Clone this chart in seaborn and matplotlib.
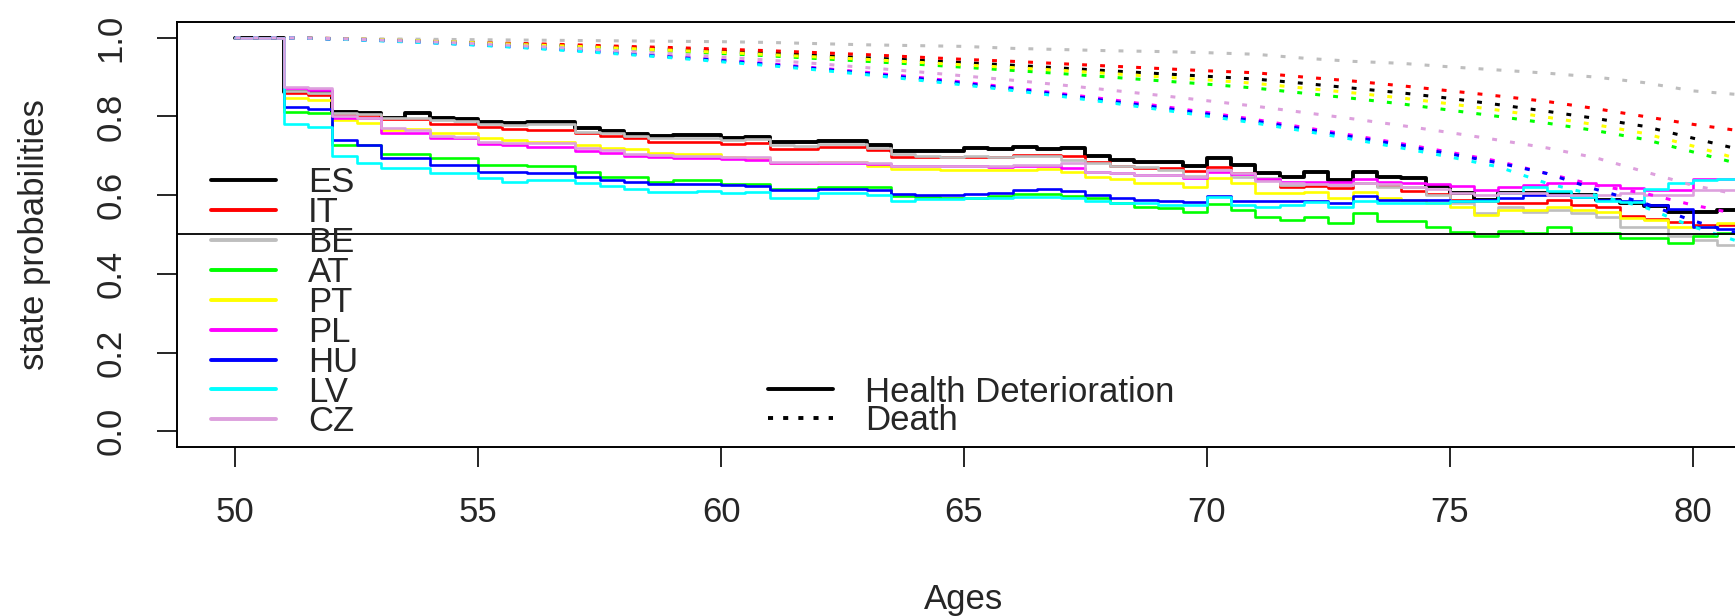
import numpy as np
import pandas as pd
import matplotlib
matplotlib.use("Agg")
import matplotlib.pyplot as plt
from matplotlib.lines import Line2D
import seaborn as sns

sns.set_style("ticks")
plt.rcParams["font.family"] = ["Liberation Sans", "DejaVu Sans"]
plt.rcParams["font.size"] = 25

countries = ["ES", "IT", "BE", "AT", "PT", "PL", "HU", "LV", "CZ"]
colors = ["#000000", "#FF0000", "#BEBEBE", "#00FF00", "#FFFF00",
          "#FF00FF", "#0000FF", "#00FFFF", "#DDA0DD"]

# Knots of the health-deterioration step curves (value holds until next knot)
step_ages = np.arange(51.0, 81.0, 0.5)

health = {
    "ES": [.862, .862, .812, .81, .797, .808, .795, .793, .787, .783,
           .787, .787, .77, .762, .755, .75, .752, .752, .745, .748,
           .736, .736, .738, .738, .728, .711, .711, .711, .72, .717,
           .722, .717, .72, .70, .69, .683, .683, .673, .695, .677,
           .656, .647, .66, .639, .66, .647, .643, .623, .605, .588,
           .605, .605, .605, .60, .588, .579, .572, .556, .556, .562],
    "IT": [.859, .855, .804, .804, .793, .793, .781, .781, .774, .767,
           .766, .766, .757, .75, .745, .736, .736, .736, .73, .732,
           .717, .717, .722, .722, .715, .698, .698, .696, .696, .696,
           .702, .702, .70, .683, .675, .67, .668, .662, .672, .657,
           .64, .62, .622, .617, .63, .622, .61, .603, .588, .584,
           .579, .579, .588, .575, .571, .546, .54, .533, .524, .524],
    "BE": [.865, .86, .81, .806, .795, .795, .79, .788, .78, .777,
           .78, .78, .76, .757, .75, .745, .745, .745, .74, .742,
           .728, .725, .73, .73, .72, .705, .70, .698, .70, .698,
           .70, .699, .69, .681, .675, .672, .665, .649, .665, .647,
           .643, .626, .63, .626, .63, .62, .62, .60, .579, .554,
           .571, .558, .562, .554, .545, .52, .52, .495, .486, .474],
    "AT": [.812, .808, .727, .727, .705, .705, .694, .694, .677, .677,
           .674, .674, .66, .647, .647, .634, .639, .639, .628, .628,
           .615, .615, .62, .62, .62, .598, .595, .592, .594, .598,
           .603, .603, .598, .592, .58, .571, .567, .556, .578, .562,
           .545, .537, .545, .53, .554, .535, .535, .52, .507, .496,
           .51, .503, .52, .505, .503, .49, .49, .478, .495, .505],
    "PT": [.846, .842, .79, .783, .766, .768, .757, .757, .745, .74,
           .736, .736, .728, .72, .716, .708, .705, .705, .698, .694,
           .681, .681, .683, .683, .675, .666, .666, .664, .664, .664,
           .664, .666, .66, .647, .64, .63, .632, .62, .643, .63,
           .606, .605, .607, .592, .607, .592, .588, .579, .571, .55,
           .562, .562, .571, .562, .558, .541, .537, .52, .52, .53],
    "PL": [.872, .868, .795, .795, .757, .757, .745, .745, .73, .728,
           .723, .723, .713, .708, .70, .696, .694, .694, .692, .689,
           .681, .681, .681, .681, .68, .673, .673, .673, .673, .671,
           .675, .673, .668, .66, .656, .652, .65, .643, .66, .655,
           .64, .634, .634, .634, .64, .634, .632, .628, .622, .613,
           .62, .626, .63, .63, .626, .617, .613, .613, .64, .64],
    "HU": [.825, .82, .74, .727, .694, .694, .677, .677, .66, .66,
           .656, .656, .645, .639, .634, .628, .628, .628, .625, .623,
           .612, .612, .615, .615, .614, .603, .60, .60, .603, .605,
           .612, .615, .61, .60, .592, .588, .586, .583, .598, .586,
           .584, .584, .586, .58, .598, .588, .588, .588, .584, .588,
           .592, .60, .60, .596, .588, .584, .575, .565, .52, .515],
    "LV": [.78, .774, .70, .681, .668, .668, .656, .656, .643, .634,
           .639, .639, .63, .622, .615, .607, .607, .61, .605, .607,
           .592, .592, .605, .605, .60, .584, .59, .59, .592, .592,
           .596, .596, .592, .584, .579, .579, .575, .575, .596, .575,
           .571, .575, .583, .571, .584, .579, .579, .581, .584, .586,
           .605, .62, .61, .596, .584, .583, .615, .63, .639, .64],
    "CZ": [.876, .872, .80, .795, .77, .766, .75, .749, .735, .732,
           .732, .732, .72, .715, .705, .702, .70, .70, .698, .696,
           .685, .685, .685, .685, .682, .673, .673, .673, .675, .673,
           .677, .677, .682, .66, .656, .652, .651, .647, .664, .656,
           .635, .63, .628, .626, .63, .628, .62, .615, .605, .60,
           .605, .605, .60, .60, .60, .605, .60, .60, .613, .613],
}

# Survival (no death) curves, one value per year of age 50..81
death_ages = np.arange(50, 82)
death = {
    "ES": [1, 1, .998, .995, .991, .987, .983, .979, .975, .971, .966, .961, .955, .949, .943, .937,
           .93, .923, .916, .909, .902, .895, .884, .872, .86, .846, .83, .813, .795, .775, .745, .715],
    "IT": [1, 1, .998, .995, .992, .988, .985, .982, .978, .975, .971, .967, .962, .957, .951, .945,
           .94, .934, .928, .922, .916, .911, .90, .89, .878, .865, .852, .838, .82, .80, .78, .763],
    "BE": [1, 1, .998, .997, .996, .995, .994, .993, .992, .991, .99, .988, .985, .982, .98, .978,
           .973, .97, .967, .965, .962, .958, .948, .94, .935, .926, .918, .91, .90, .886, .865, .855],
    "AT": [1, 1, .997, .994, .99, .986, .981, .976, .971, .966, .96, .954, .947, .94, .933, .925,
           .917, .909, .90, .891, .882, .872, .859, .846, .832, .816, .80, .783, .764, .742, .71, .678],
    "PT": [1, 1, .998, .995, .991, .987, .982, .978, .973, .968, .963, .957, .951, .945, .938, .931,
           .924, .917, .909, .901, .893, .884, .872, .86, .847, .832, .816, .798, .779, .757, .725, .69],
    "PL": [1, 1, .997, .993, .988, .982, .976, .969, .961, .953, .944, .934, .923, .912, .90, .887,
           .873, .858, .843, .827, .81, .792, .772, .752, .731, .709, .686, .655, .625, .605, .575, .55],
    "HU": [1, 1, .997, .993, .988, .982, .975, .968, .96, .951, .942, .932, .921, .909, .897, .884,
           .87, .855, .839, .823, .806, .788, .768, .748, .727, .705, .682, .655, .615, .58, .535, .50],
    "LV": [1, 1, .997, .992, .987, .981, .974, .966, .958, .949, .939, .929, .918, .906, .893, .88,
           .866, .851, .835, .818, .801, .783, .763, .742, .72, .697, .672, .63, .60, .57, .52, .48],
    "CZ": [1, 1, .998, .994, .99, .985, .979, .973, .966, .959, .951, .943, .934, .924, .914, .903,
           .892, .88, .867, .854, .84, .826, .81, .794, .777, .759, .74, .72, .695, .66, .625, .60],
}

DOT = (0, (1.6, 4.3))

fig = plt.figure(figsize=(17.35, 6.16), dpi=100)
ax = fig.add_axes([0.10202, 0.27435, 0.90720, 0.68994])

for name, col in zip(countries, colors):
    # step curve: 1 until the first knot, then the tabulated values, held to the end
    xs = np.concatenate([[50.0], step_ages, [81.2]])
    ys = np.concatenate([[1.0], health[name], [health[name][-1]]])
    df = pd.DataFrame({"age": xs, "p": ys})
    sns.lineplot(data=df, x="age", y="p", color=col, ax=ax, legend=False,
                 sort=False, errorbar=None, drawstyle="steps-post",
                 lw=2.8 if name == "ES" else 1.9)

for name, col in zip(countries, colors):
    dd = pd.DataFrame({"age": death_ages, "p": death[name]})
    sns.lineplot(data=dd, x="age", y="p", color=col, ax=ax, legend=False,
                 sort=False, errorbar=None, lw=2.2, linestyle=DOT)

ax.axhline(0.5, color="black", lw=1.3)

ax.set_xlim(48.8, 81.2)
ax.set_ylim(-0.04, 1.04)
ax.set_xticks([50, 55, 60, 65, 70, 75, 80])
ax.set_yticks([0.0, 0.2, 0.4, 0.6, 0.8, 1.0])
ax.set_yticklabels(["0.0", "0.2", "0.4", "0.6", "0.8", "1.0"], rotation=90, va="center")
ax.tick_params(axis="both", length=14.5, width=1.2, color="black", labelsize=25)
ax.tick_params(axis="x", pad=21)
ax.tick_params(axis="y", pad=21)
for sp in ax.spines.values():
    sp.set_linewidth(1.4)
    sp.set_color("black")

ax.set_xlabel("Ages", fontsize=25)
ax.set_ylabel("state probabilities", fontsize=25)
ax.xaxis.set_label_coords(0.5, -0.319)
ax.yaxis.set_label_coords(-0.08, 0.5)

h1 = [Line2D([], [], color=c, lw=2.8) for c in colors]
leg1 = ax.legend(h1, countries, loc="upper left", bbox_to_anchor=(0.0216, 0.66),
                 frameon=False, fontsize=25, handlelength=1.86, handletextpad=0.94,
                 labelspacing=-0.09, borderpad=0, borderaxespad=0)
ax.add_artist(leg1)

h2 = [Line2D([], [], color="black", lw=2.8),
      Line2D([], [], color="black", lw=2.8, linestyle=(0, (1.3, 2.6)))]
ax.legend(h2, ["Health Deterioration", "Death"], loc="upper left",
          bbox_to_anchor=(0.3755, 0.168), frameon=False, fontsize=25,
          handlelength=1.86, handletextpad=0.94, labelspacing=-0.13,
          borderpad=0, borderaxespad=0)

fig.savefig("out.png", dpi=100)
